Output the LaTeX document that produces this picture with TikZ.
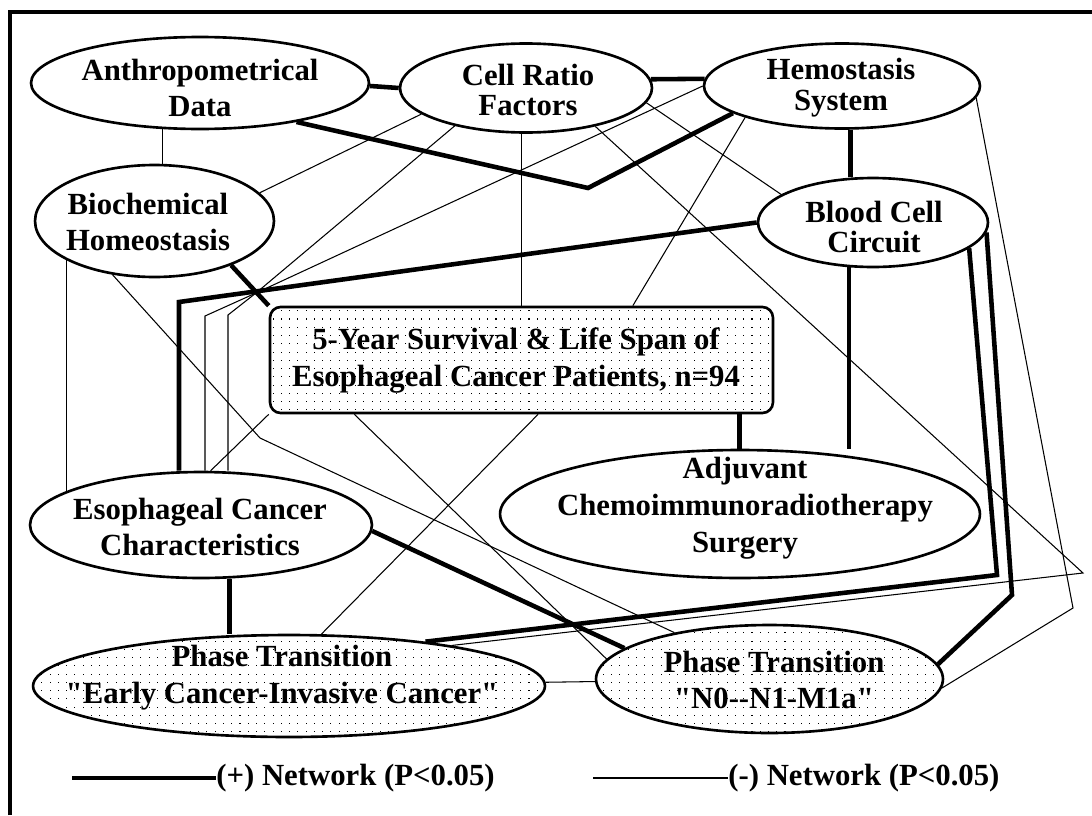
\documentclass[tikz,border=0pt]{standalone}
\usepackage{fontspec}
\setmainfont{Liberation Serif}
\newfontfamily\lblfont{Liberation Serif}
\usetikzlibrary{shapes.geometric,patterns,backgrounds}
\pgfdeclarepatternformonly{specks}{\pgfpoint{-1pt}{-1pt}}{\pgfpoint{5.5pt}{5.5pt}}{\pgfpoint{4.7pt}{4.7pt}}{%
  \pgfpathrectangle{\pgfpointorigin}{\pgfpoint{0.6pt}{0.6pt}}\pgfusepath{fill}}

\begin{document}
\begin{tikzpicture}
    [
    x=0.02cm, y=-0.02cm
    , oval/.style = {ellipse,draw,line width=1.5pt,fill=white,inner sep=0pt}
    , speckoval/.style = {oval,preaction={fill=white},pattern=specks}
    , board/.style = {rectangle,rounded corners=6pt,draw,line width=1.5pt,preaction={fill=white},pattern=specks,inner sep=0pt}
    , lbl/.style = {font=\lblfont\bfseries\fontsize{17.5}{21}\selectfont,align=center,inner sep=0pt}
    , lbltight/.style = {lbl,font=\lblfont\bfseries\fontsize{17.5}{17.5}\selectfont}
    , plusline/.style = {line width=2.6pt}
    , minusline/.style = {line width=0.6pt}
    ]
\useasboundingbox (0,0) rectangle (1092,815);
\draw[line width=2.8pt] (10,815) |- (1092,12);

\node[oval, minimum width=6.76cm, minimum height=1.84cm] (anthro) at (200,83) {};
\node[oval, minimum width=5.04cm, minimum height=1.78cm] (cellr) at (526,88) {};
\node[oval, minimum width=5.52cm, minimum height=1.70cm] (hemo) at (842,86) {};
\node[oval, minimum width=4.78cm, minimum height=2.24cm] (biochem) at (154.5,221) {};
\node[oval, minimum width=4.60cm, minimum height=1.78cm] (blood) at (873,222.5) {};
\node[board, minimum width=10.06cm, minimum height=2.12cm] (box) at (521.5,360) {};
\node[oval, minimum width=9.60cm, minimum height=2.56cm] (adj) at (740,514) {};
\node[oval, minimum width=6.84cm, minimum height=2.12cm] (esoph) at (201,525) {};
\node[speckoval, minimum width=10.24cm, minimum height=2.04cm] (phA) at (289,686) {};
\node[speckoval, minimum width=6.94cm, minimum height=2.16cm] (phB) at (769.5,679) {};

\node[lbl] (anthroT) at (200,88) {Anthropometrical\\Data};
\node[lbltight] (cellrT) at (528,90) {Cell Ratio\\Factors};
\node[lbltight] (hemoT) at (841,88) {Hemostasis\\System};
\node[lbl] (biochemT) at (148,222) {Biochemical\\Homeostasis};
\node[lbltight] (bloodT) at (874,227) {Blood Cell\\Circuit};
\node[lbl] (boxT) at (516,361) {5-Year Survival \& Life Span of\\Esophageal Cancer Patients, n=94};
\node[lbl] (adjT) at (745,508) {Adjuvant\\Chemoimmunoradiotherapy\\Surgery};
\node[lbl] (esophT) at (200,527) {Esophageal Cancer\\Characteristics};
\node[lbl] (phAT) at (282,678) {Phase Transition\\"Early Cancer-Invasive Cancer"};
\node[lbl] (phBT) at (774,680) {Phase Transition\\"N0-{}-N1-M1a"};

\coordinate (t4) at (588,188);
\coordinate (t6) at (179,302);
\coordinate (t9) at (997,575);
\coordinate (t10) at (1012,595);
\coordinate (cv) at (256,293);
\coordinate (e1) at (205,316);
\coordinate (e2) at (228,315);
\coordinate (c1) at (1083,573);
\coordinate (h1) at (1073,608);
\coordinate (b3) at (260,438);

\begin{scope}[on background layer]
% (+) network
\draw[plusline] (anthro.-1) -- (cellr.180);
\draw[plusline] (cellr.4) -- (hemo.177);
\draw[plusline] (hemo.-79) -- (hemo.-79 |- blood.north);
\draw[plusline] (anthro.-22) -- (t4) -- (hemo.194);
\draw[plusline] (biochem.-30) -- (box.north west);
\draw[plusline] (blood.west) -- (t6) -- (t6 |- esoph.north);
\draw[plusline] (box.-14) -- (box.-14 |- adj.north);
\draw[plusline] (blood.-118) -- (blood.-118 |- adj.north);
\draw[plusline] (blood.-15) -- (t9) -- (phA.18);
\draw[plusline] (blood.-5) -- (t10) -- (phB.5);
\draw[plusline] (esoph.-2) -- (phB.168);
\draw[plusline] (esoph.-62) -- (esoph.-62 |- phA.north);
% (-) network
\draw[minusline] (anthro.231) -- (anthro.231 |- biochem.north);
\draw[minusline] (cellr.194) -- (biochem.15);
\draw[minusline] (box.north |- cellr.south) -- (box.north);
\draw[minusline] (cellr.208) -- (cv) -- (e1) -- (e1 |- esoph.north);
\draw[minusline] (hemo.west) -- (cv) -- (e2) -- (e2 |- esoph.north);
\draw[minusline] (cellr.-7) -- (blood.163);
\draw[minusline] (cellr.-29) -- (c1) -- (phA.14);
\draw[minusline] (hemo.198) -- (box.26);
\draw[minusline] (hemo.-5) -- (h1) -- (phB.-3);
\draw[minusline] (biochem.204) -- (biochem.204 |- esoph.166);
\draw[minusline] (biochem.232) -- (b3) -- (phB.154);
\draw[minusline] (esoph.80) -- (box.south west);
\draw[minusline] (box.-73) -- (phA.58);
\draw[minusline] (box.198) -- (phB.173);
\draw[minusline] (phA) -- (phB);
\end{scope}

% legend
\coordinate (plusL) at (72,778);
\node[lbl, anchor=west] (plusT) at (216,778) {(+) Network (P<0.05)};
\draw[plusline] (plusL) -- (plusT.west);
\coordinate (minusL) at (593,778);
\node[lbl, anchor=west] (minusT) at (728,778) {(-) Network (P<0.05)};
\draw[minusline] (minusL) -- (minusT.west);
%\node[lbl] at (540,800) {};
\end{tikzpicture}
\end{document}
